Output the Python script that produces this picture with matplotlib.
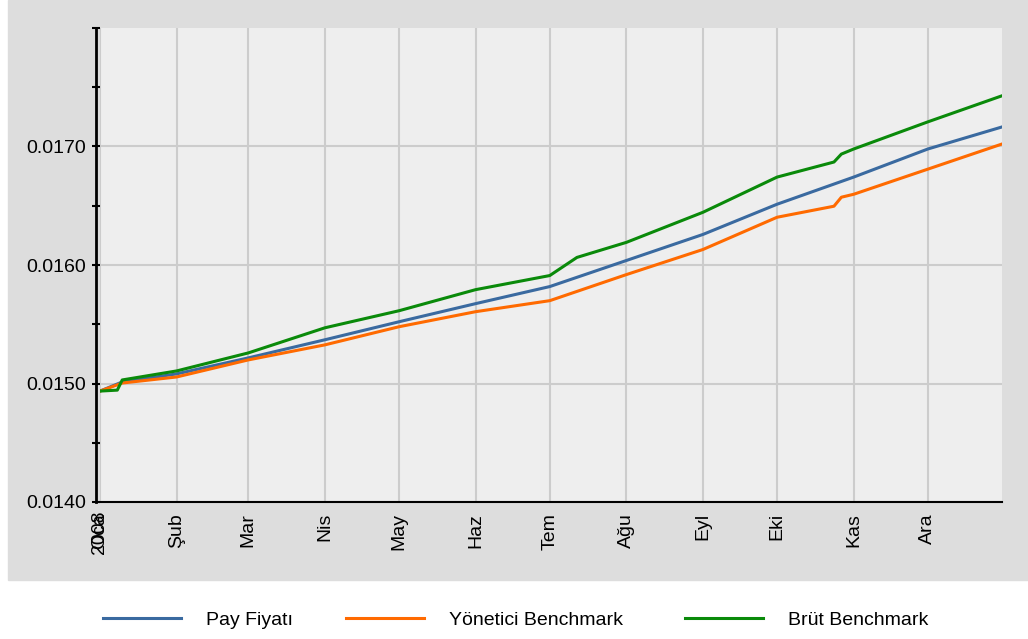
import datetime as dt
import matplotlib
matplotlib.use("Agg")
import matplotlib.pyplot as plt
import matplotlib.transforms as mtransforms
from matplotlib.patches import Rectangle
from matplotlib.ticker import FixedLocator, FuncFormatter

plt.rcParams['font.family'] = ['Liberation Sans', 'DejaVu Sans']

pay_dates = ["2008-01-01", "2008-01-10", "2008-02-01", "2008-03-01", "2008-04-01",
             "2008-05-01", "2008-06-01", "2008-07-01", "2008-08-01", "2008-09-01",
             "2008-10-01", "2008-11-01", "2008-12-01", "2008-12-31"]
pay_fiyati = [0.014936, 0.015013, 0.015081, 0.015216, 0.015369, 0.015521, 0.015674,
              0.015818, 0.016038, 0.016258, 0.016513, 0.016742, 0.016979, 0.017165]

yon_dates = ["2008-01-01", "2008-01-10", "2008-02-01", "2008-03-01", "2008-04-01",
             "2008-05-01", "2008-06-01", "2008-07-01", "2008-08-01", "2008-09-01",
             "2008-10-01", "2008-10-24", "2008-10-27", "2008-11-01", "2008-12-01",
             "2008-12-31"]
yonetici = [0.014936, 0.015004, 0.015055, 0.015199, 0.015326, 0.015479, 0.015606,
            0.015699, 0.015919, 0.016131, 0.016403, 0.016496, 0.016572, 0.016597,
            0.016809, 0.017021]

brut_dates = ["2008-01-01", "2008-01-08", "2008-01-10", "2008-02-01", "2008-03-01",
              "2008-04-01", "2008-05-01", "2008-06-01", "2008-07-01", "2008-07-12",
              "2008-08-01", "2008-09-01", "2008-10-01", "2008-10-24", "2008-10-27",
              "2008-11-01", "2008-12-01", "2008-12-31"]
brut = [0.014936, 0.014944, 0.015030, 0.015106, 0.015258, 0.015470, 0.015614,
        0.015792, 0.015911, 0.016064, 0.016191, 0.016445, 0.016742, 0.016869,
        0.016936, 0.016979, 0.017208, 0.017428]

month_labels = ["Oca", "Şub", "Mar", "Nis", "May", "Haz", "Tem", "Ağu", "Eyl", "Eki", "Kas", "Ara"]
year_label = "2008"


def to_dates(lst):
    return [dt.datetime.strptime(s, "%Y-%m-%d") for s in lst]


W, H = 1028, 639
FS = 14
fig = plt.figure(figsize=(W / 100, H / 100), dpi=100)
fig.patch.set_facecolor('white')
fig.patches.append(Rectangle((8 / W, 1 - 580 / H), 1020 / W, 580 / H,
                             transform=fig.transFigure, color='#dddddd', zorder=-10))

ax = fig.add_axes([100 / W, 1 - 502 / H, 902 / W, 474 / H])
ax.set_facecolor('#eeeeee')

l1, = ax.plot(to_dates(pay_dates), pay_fiyati, color='#3a6aa0', lw=2.2, label='Pay Fiyatı')
l2, = ax.plot(to_dates(yon_dates), yonetici, color='#ff6a00', lw=2.2, label='Yönetici Benchmark')
l3, = ax.plot(to_dates(brut_dates), brut, color='#0a8a0a', lw=2.2, label='Brüt Benchmark')

ax.set_xlim(dt.datetime(2008, 1, 1), dt.datetime(2008, 12, 31))
ax.set_ylim(0.014, 0.018)

ax.yaxis.set_major_locator(FixedLocator([0.014, 0.015, 0.016, 0.017]))
ax.yaxis.set_minor_locator(FixedLocator([0.0145, 0.0155, 0.0165, 0.0175, 0.018]))
ax.yaxis.set_major_formatter(FuncFormatter(lambda v, p: f"{v:.4f}"))

month_ticks = [dt.datetime(2008, m, 1) for m in range(1, 13)]
ax.set_xticks(month_ticks)
ax.set_xticklabels(month_labels, rotation=90, va='top', ha='center')

# year label drawn over the first month label, as in the original
trans = mtransforms.blended_transform_factory(ax.transData, ax.transAxes)
trans = trans + mtransforms.ScaledTranslation(0, -8 / 100, fig.dpi_scale_trans)
ax.text(month_ticks[0], 0, year_label, rotation=90, va='top', ha='center',
        fontsize=FS, transform=trans)

ax.grid(True, which='major', color='#cccccc', lw=1.5)
ax.set_axisbelow(True)
for s in ['top', 'right']:
    ax.spines[s].set_visible(False)
ax.spines['left'].set_linewidth(2)
ax.spines['bottom'].set_linewidth(1.5)
ax.spines['left'].set_position(('outward', 3))

ax.tick_params(axis='y', which='both', direction='inout', length=6, width=1.5,
               labelsize=FS, pad=4)
ax.tick_params(axis='x', which='both', length=0, labelsize=FS, pad=8)

# legend entries placed individually to match the original spacing
legend_x = [95 / W, 338 / W, 677 / W]
for handle, x0 in zip([l1, l2, l3], legend_x):
    fig.legend(handles=[handle], loc='center left', bbox_to_anchor=(x0, 1 - 620 / H),
               frameon=False, fontsize=FS, handlelength=4.0, handletextpad=1.3,
               borderaxespad=0, borderpad=0.4)

fig.savefig("out.png", dpi=100)
